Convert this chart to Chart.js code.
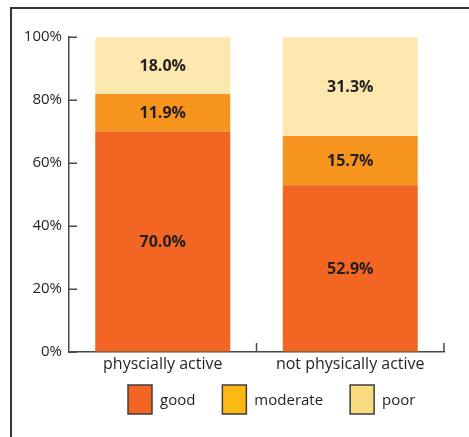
<!DOCTYPE html>
<html>
<head>
<meta charset="utf-8">
<script src="https://cdn.jsdelivr.net/npm/chart.js@4.4.1/dist/chart.umd.min.js"></script>
<style>
  html, body { margin: 0; padding: 0; background: #fff; overflow: hidden; }
  #wrap { width: 469px; height: 437px; }
</style>
</head>
<body>
<div id="wrap"><canvas id="chart" width="469" height="437"></canvas></div>
<script>
// data (percent of each group)
const groups = ['physcially active', 'not physically active'];
const levels = ['good', 'moderate', 'poor'];
const good = [70.0, 52.9];
const moderate = [11.9, 15.7];
const poor = [18.0, 31.3];
const yTicks = [0, 20, 40, 60, 80, 100];

// bar fills and the (slightly different) legend swatch fills
const barColors = ['#F26522', '#F7941D', '#FCE7AE'];
const swatchColors = ['#F26522', '#FDB913', '#FADB7D'];
const ink = '#231F20';
const axisGrey = '#4a4a4a';
const baseFont = '"Open Sans", "Noto Sans", sans-serif';

// outer frame, only left and top edges are inside the picture
const framePlugin = {
  id: 'frame',
  beforeDraw(chart) {
    const ctx = chart.ctx;
    ctx.save();
    ctx.strokeStyle = '#333';
    ctx.lineWidth = 2;
    ctx.beginPath();
    ctx.moveTo(11, chart.height + 10);
    ctx.lineTo(11, 8);
    ctx.lineTo(chart.width + 10, 8);
    ctx.stroke();
    ctx.restore();
  }
};

// short tick marks pointing into the plot area
const innerTicks = {
  id: 'innerTicks',
  afterDraw(chart) {
    const ctx = chart.ctx;
    const xs = chart.scales.x, ys = chart.scales.y;
    const area = chart.chartArea;
    ctx.save();
    ctx.strokeStyle = axisGrey;
    ctx.lineWidth = 1.5;
    ctx.beginPath();
    yTicks.forEach(v => {
      const y = Math.round(ys.getPixelForValue(v)) + 0.25;
      ctx.moveTo(area.left, y);
      ctx.lineTo(area.left + 8, y);
    });
    const step = (xs.right - xs.left) / groups.length;
    for (let i = 1; i <= groups.length; i++) {
      const x = xs.left + i * step;
      ctx.moveTo(x, area.bottom);
      ctx.lineTo(x, area.bottom - 9);
    }
    ctx.stroke();
    ctx.restore();
  }
};

// value labels in the middle of each stacked segment
const segmentLabels = {
  id: 'segmentLabels',
  afterDatasetsDraw(chart) {
    const ctx = chart.ctx;
    ctx.save();
    ctx.font = 'bold 16px ' + baseFont;
    ctx.fillStyle = ink;
    ctx.textAlign = 'center';
    ctx.textBaseline = 'middle';
    chart.data.datasets.forEach((ds, i) => {
      chart.getDatasetMeta(i).data.forEach((bar, j) => {
        const mid = (bar.y + bar.base) / 2;
        ctx.fillText(ds.data[j].toFixed(1) + '%', bar.x, mid + 1);
      });
    });
    ctx.restore();
  }
};

// legend row below the axis with tall outlined swatches
const swatchLegend = {
  id: 'swatchLegend',
  afterDraw(chart) {
    const ctx = chart.ctx;
    const boxW = 24, boxH = 29, gap = 8, spacing = 27;
    const top = 385;
    let x = 128;
    ctx.save();
    ctx.font = '15px ' + baseFont;
    ctx.textBaseline = 'middle';
    chart.data.datasets.forEach((ds, i) => {
      ctx.fillStyle = swatchColors[i];
      ctx.fillRect(x, top, boxW, boxH);
      ctx.strokeStyle = '#3d3d3d';
      ctx.lineWidth = 1.5;
      ctx.strokeRect(x, top, boxW, boxH);
      ctx.fillStyle = ink;
      ctx.fillText(ds.label, x + boxW + gap, top + boxH / 2 + 1);
      x += boxW + gap + ctx.measureText(ds.label).width + spacing;
    });
    ctx.restore();
  }
};

const seriesValues = [good, moderate, poor];

new Chart(document.getElementById('chart'), {
  type: 'bar',
  data: {
    labels: groups,
    datasets: levels.map((name, i) => ({
      label: name,
      data: seriesValues[i],
      backgroundColor: barColors[i],
      borderWidth: 0,
      categoryPercentage: 0.72,
      barPercentage: 1.0
    }))
  },
  plugins: [framePlugin, segmentLabels, innerTicks, swatchLegend],
  options: {
    responsive: false,
    animation: false,
    layout: { padding: { top: 37, right: 25, left: 0, bottom: 0 } },
    plugins: {
      legend: { display: false },
      tooltip: { enabled: false }
    },
    scales: {
      x: {
        stacked: true,
        grid: { drawOnChartArea: false, drawTicks: false },
        border: { color: axisGrey, width: 1.5 },
        ticks: {
          color: ink,
          padding: 3,
          font: { family: baseFont, size: 16 }
        },
        afterFit(scale) { scale.height = 85; }
      },
      y: {
        stacked: true,
        min: 0,
        max: 100,
        afterBuildTicks(scale) { scale.ticks = yTicks.map(v => ({ value: v })); },
        grid: { drawOnChartArea: false, drawTicks: false },
        border: { color: axisGrey, width: 1.5 },
        ticks: {
          color: ink,
          padding: 7,
          font: { family: baseFont, size: 15 },
          callback: v => v + '%'
        },
        afterFit(scale) { scale.width = 69; }
      }
    }
  }
});
</script>
</body>
</html>
